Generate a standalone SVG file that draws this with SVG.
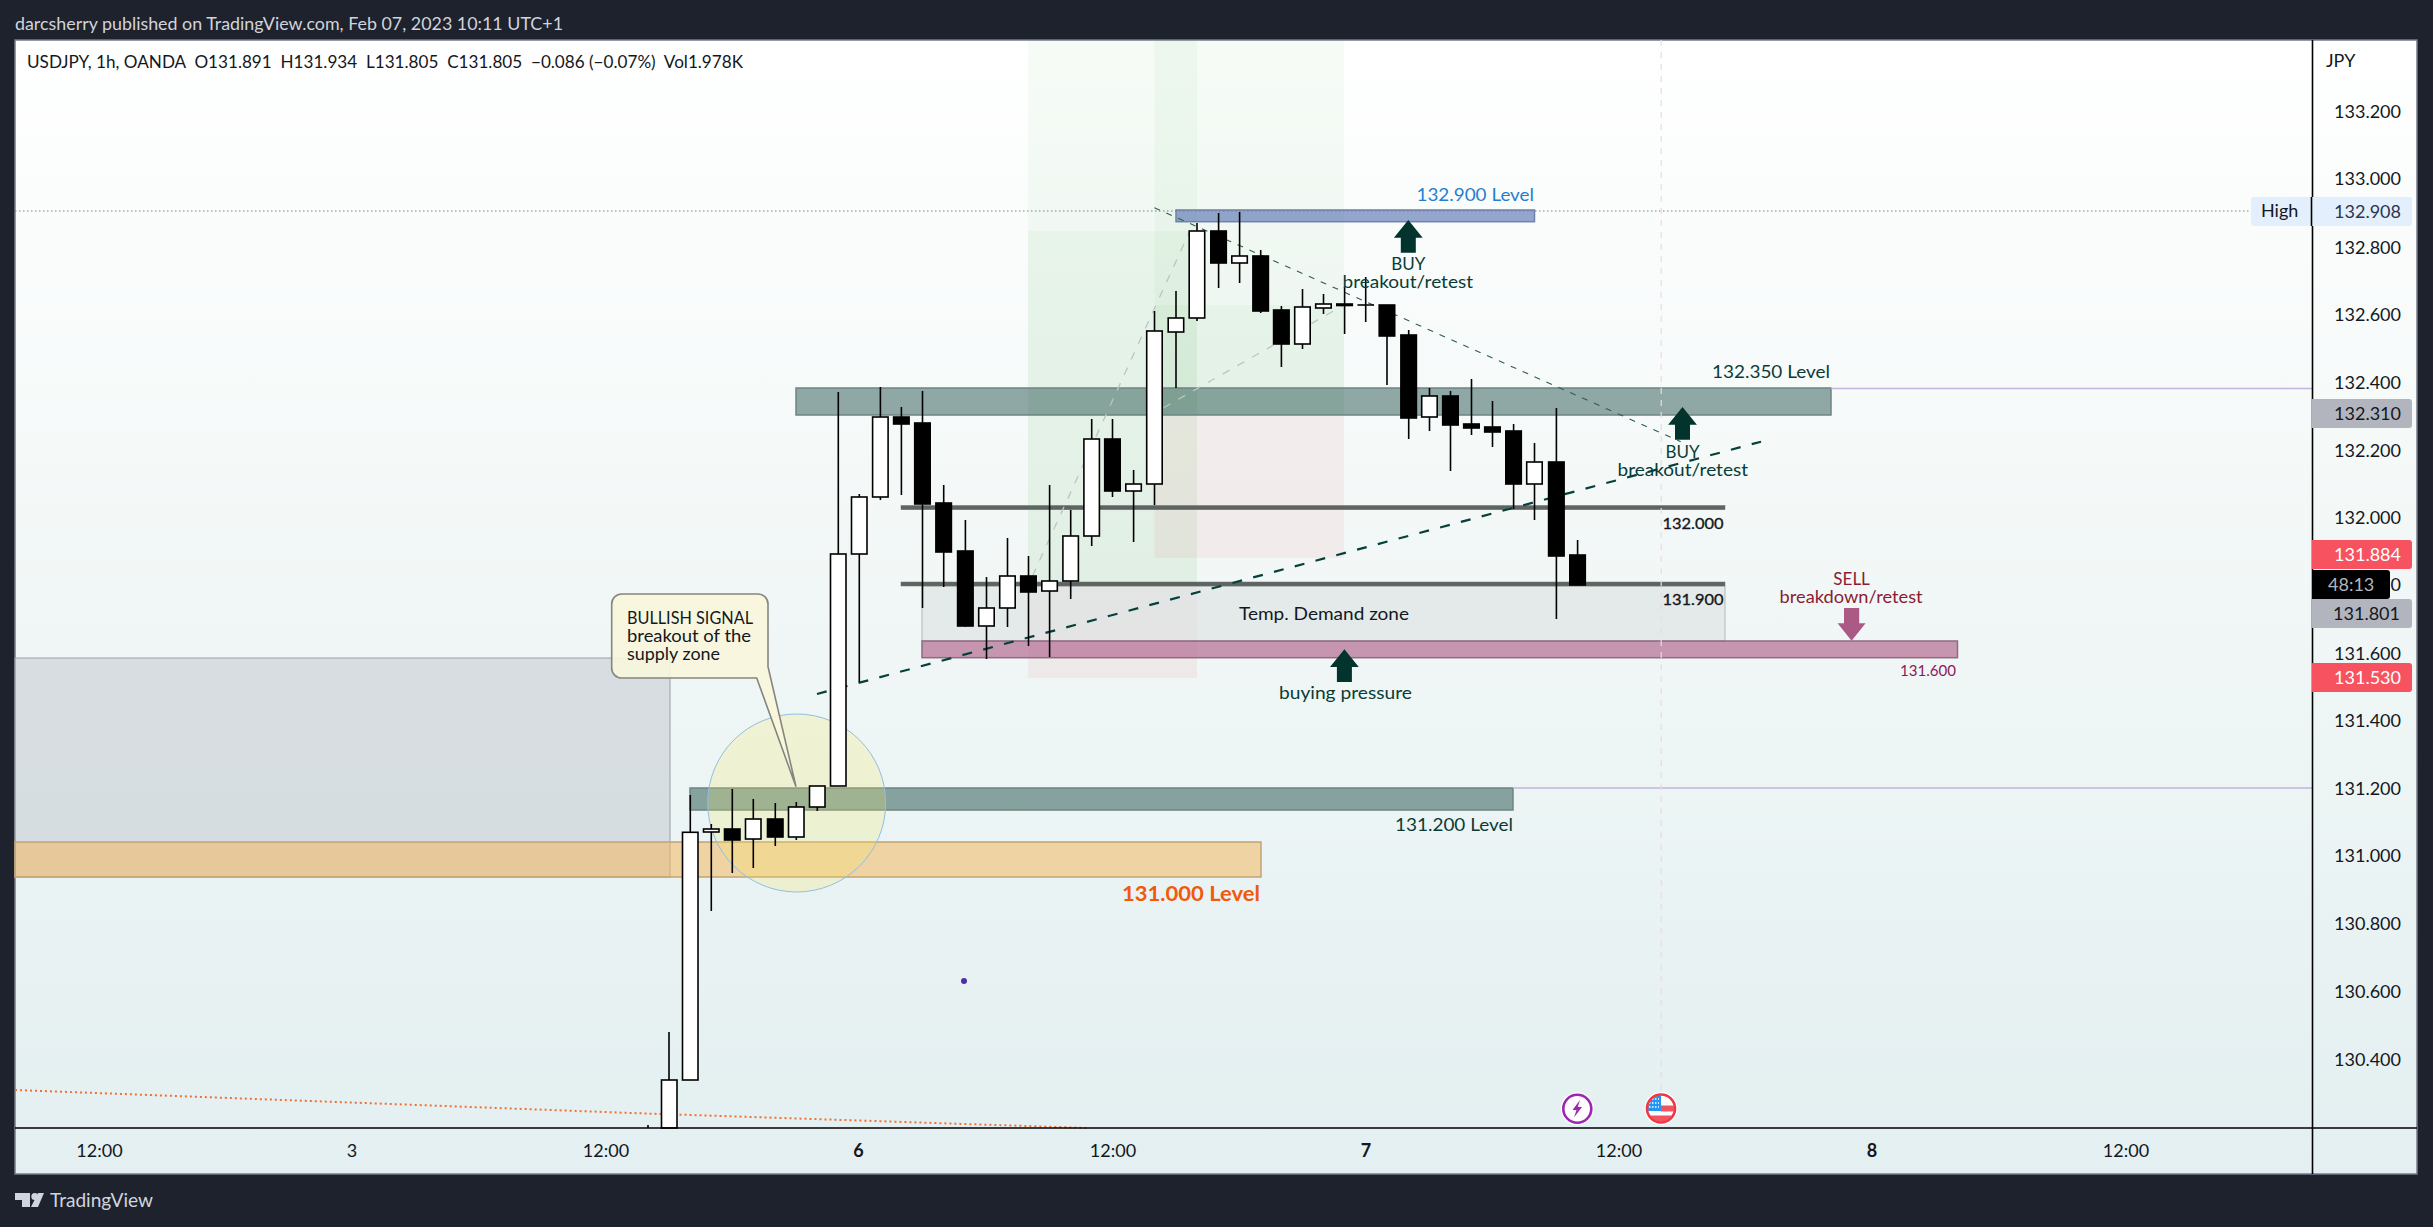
<svg xmlns="http://www.w3.org/2000/svg" width="2433" height="1227" viewBox="0 0 2433 1227">
<style>
text{font-family:"Lato","Liberation Sans",sans-serif;font-size:17px;fill:#131722}
.h{fill:#d1d4dc}
.ax{font-size:18px}
.gt{fill:#073d36}
.ct{fill:#0b3a36}
.sm{font-size:16px;stroke:#131722;stroke-width:.35}
.w{fill:#fff;stroke:#000;stroke-width:1.6}
.b{fill:#000;stroke:#000;stroke-width:1.6}
.k{stroke:#000;stroke-width:1.6;fill:none}
.ar{fill:#03332d}
.bar{fill:#5e6461;stroke:#6b716e;stroke-width:.5}
.zone{stroke-width:1.5}
.grn{fill:#4caf50;fill-opacity:.05}
.red{fill:#e04a5a;fill-opacity:.075}
</style>
<defs>
<linearGradient id="bg" x1="0" y1="0" x2="0" y2="1">
<stop offset="0" stop-color="#ffffff"/>
<stop offset=".5" stop-color="#f1f7f6"/>
<stop offset="1" stop-color="#e3eff1"/>
</linearGradient>
<clipPath id="flagclip"><circle cx="1661" cy="1108.5" r="13"/></clipPath>
</defs>
<rect width="2433" height="1227" fill="#1e222d"/>
<rect id="panel" x="15" y="40" width="2402" height="1134" fill="url(#bg)" stroke="#787b86" stroke-width="1.5"/>
<text class="h" x="15" y="30" textLength="548" lengthAdjust="spacingAndGlyphs">darcsherry published on TradingView.com, Feb 07, 2023 10:11 UTC+1</text>
<text x="27" y="68" textLength="716" lengthAdjust="spacingAndGlyphs" xml:space="preserve">USDJPY, 1h, OANDA  O131.891  H131.934  L131.805  C131.805  −0.086 (−0.07%)  Vol1.978K</text>

<g id="position-tools">
<rect class="grn" x="1028" y="40" width="169" height="546"/>
<rect class="grn" x="1028" y="231" width="169" height="355"/>
<rect class="grn" x="1154.5" y="40" width="189.5" height="375"/>
<rect class="grn" x="1154.5" y="305" width="189.5" height="110"/>
<rect class="red" x="1028" y="586" width="169" height="92"/>
<rect class="red" x="1154.5" y="415" width="189.5" height="143"/>
</g>
<g id="zones">
<rect id="supply-gray" x="15" y="658" width="655" height="219" fill="#c8cdd3" fill-opacity=".6" stroke="#9a9ea3"/>
<rect id="level-131000" x="15" y="842" width="1246" height="35" fill="#f4b860" fill-opacity=".55" stroke="#c4a373" class="zone"/>
<rect id="demand" x="922" y="586" width="803" height="55" fill="#d8e0de" fill-opacity=".55" stroke="#b0bab8"/>
<rect id="level-131600" x="922" y="641" width="1035.5" height="16.7" fill="#b56f96" fill-opacity=".72" stroke="#8f6a80" class="zone"/>
<rect id="level-131200" x="690" y="788" width="823" height="22" fill="#1f4f4a" fill-opacity=".5" stroke="#6e8582" class="zone"/>
<rect id="level-132350" x="796" y="388" width="1035" height="27" fill="#1f4f4a" fill-opacity=".48" stroke="#6e8582" class="zone"/>
<rect id="level-132900" x="1176" y="210" width="358.5" height="11.7" fill="#3f5fa8" fill-opacity=".55" stroke="#7080ab" class="zone"/>
<rect id="bar-132000" class="bar" x="901" y="505.5" width="824" height="4.2"/>
<rect id="bar-131900" class="bar" x="901" y="582" width="824" height="4"/>
</g>
<g id="connectors" fill="none">
<path d="M1513 788H2312" stroke="#c3b5e0" stroke-width="1.5"/>
<path d="M1831 388.5H2312" stroke="#c3b5e0" stroke-width="1.5"/>
<path d="M15 211H2251" stroke="#787b86" stroke-width="1.2" stroke-dasharray="1.5 2.5"/>
<path d="M1661.2 40V1092" stroke="#f0d8e0" stroke-width="1.2" stroke-dasharray="6 6"/>
<path d="M15 1090L645 1113.5L1087 1128" stroke="#f07030" stroke-width="2" stroke-dasharray="2 3"/>
<path d="M1032.5 576L1189.5 231.7" stroke="#bcc4c4" stroke-width="1.3" stroke-dasharray="8 9"/>
<path d="M1163.5 407.7L1344 305L1366 305" stroke="#bcc4c4" stroke-width="1.3" stroke-dasharray="8 9"/>
<path d="M1154.4 207.7L1680.7 441.7" stroke="#2e5d55" stroke-width="1.1" stroke-dasharray="6 7"/>
<path d="M817 694L1761 441.7" stroke="#05403a" stroke-width="2.2" stroke-dasharray="10 11.5"/>
</g>
<g id="circle-signal"><circle cx="796.7" cy="803" r="89" fill="#f0eb64" fill-opacity=".23" stroke="#90bfe2" stroke-width="1"/></g>
<g id="candles">
<path class="k" d="M648 1125V1128M669 1032V1080"/><rect class="w" x="661.5" y="1080" width="15.5" height="48"/>
<path class="k" d="M690.3 795V832"/><rect class="w" x="682.5" y="832.3" width="15.5" height="247.7"/>
<path class="k" d="M711.3 824V911"/><rect class="w" x="703.5" y="829" width="15.5" height="3"/>
<path class="k" d="M732.3 789V873"/><rect class="b" x="724.5" y="829" width="15.5" height="11"/>
<path class="k" d="M753.3 799V868"/><rect class="w" x="745.5" y="819" width="15.5" height="20"/>
<path class="k" d="M775.3 803V846"/><rect class="b" x="767.5" y="819" width="15.5" height="18"/>
<path class="k" d="M796.3 802V840"/><rect class="w" x="788.5" y="807" width="15.5" height="30"/>
<path class="k" d="M817.3 786V811"/><rect class="w" x="809.5" y="786" width="15.5" height="21"/>
<path class="k" d="M838.3 392V554"/><rect class="w" x="830.5" y="554" width="15.5" height="232"/>
<path class="k" d="M859.3 494V682"/><rect class="w" x="851.5" y="497" width="15.5" height="57"/>
<path class="k" d="M880.4 387V500"/><rect class="w" x="872.6" y="417" width="15.5" height="80"/>
<path class="k" d="M901.4 407V495"/><rect class="b" x="893.6" y="417" width="15.5" height="7"/>
<path class="k" d="M922.5 391V608"/><rect class="b" x="914.7" y="423" width="15.5" height="81"/>
<path class="k" d="M943.7 485V587"/><rect class="b" x="935.9" y="503" width="15.5" height="49"/>
<path class="k" d="M965.4 520V627"/><rect class="b" x="957.6" y="551" width="15.5" height="75"/>
<path class="k" d="M986.5 577V659"/><rect class="w" x="978.7" y="608" width="15.5" height="18"/>
<path class="k" d="M1007.5 538V627"/><rect class="w" x="999.7" y="576" width="15.5" height="32"/>
<path class="k" d="M1028.5 556V646"/><rect class="b" x="1020.7" y="576" width="15.5" height="16"/>
<path class="k" d="M1049.6 485V657"/><rect class="w" x="1041.8" y="581" width="15.5" height="10"/>
<path class="k" d="M1070.7 510V599"/><rect class="w" x="1062.9" y="536" width="15.5" height="45"/>
<path class="k" d="M1091.7 419V546"/><rect class="w" x="1083.9" y="439" width="15.5" height="97"/>
<path class="k" d="M1112.5 419V497"/><rect class="b" x="1104.7" y="439" width="15.5" height="52"/>
<path class="k" d="M1133.6 470V542"/><rect class="w" x="1125.8" y="484" width="15.5" height="7"/>
<path class="k" d="M1154.5 311V505"/><rect class="w" x="1146.7" y="331" width="15.5" height="153"/>
<path class="k" d="M1176 291V388"/><rect class="w" x="1168.2" y="318" width="15.5" height="14"/>
<path class="k" d="M1197 223V321"/><rect class="w" x="1189.2" y="231" width="15.5" height="87"/>
<path class="k" d="M1218.6 213V288"/><rect class="b" x="1210.8" y="231" width="15.5" height="32"/>
<path class="k" d="M1239.6 212V283"/><rect class="w" x="1231.8" y="256" width="15.5" height="7"/>
<path class="k" d="M1260.7 250V313"/><rect class="b" x="1252.9" y="256" width="15.5" height="55"/>
<path class="k" d="M1281.4 306V367"/><rect class="b" x="1273.6" y="310" width="15.5" height="34"/>
<path class="k" d="M1302.5 289V349"/><rect class="w" x="1294.7" y="307" width="15.5" height="37"/>
<path class="k" d="M1323.5 294V314"/><rect class="w" x="1315.7" y="304" width="15.5" height="4"/>
<path class="k" d="M1344.6 287V334"/><rect class="b" x="1336.8" y="304" width="15.5" height="1.5"/>
<path class="k" d="M1365.7 277V322M1357.5 305H1374"/>
<path class="k" d="M1387 305V385"/><rect class="b" x="1379.2" y="305" width="15.5" height="31"/>
<path class="k" d="M1408.7 330V439"/><rect class="b" x="1400.9" y="335" width="15.5" height="83"/>
<path class="k" d="M1429.5 388V431"/><rect class="w" x="1421.7" y="396" width="15.5" height="21"/>
<path class="k" d="M1450.5 391V471"/><rect class="b" x="1442.7" y="396" width="15.5" height="29"/>
<path class="k" d="M1471.5 379V435"/><rect class="b" x="1463.7" y="424" width="15.5" height="4"/>
<path class="k" d="M1492.5 401V447"/><rect class="b" x="1484.7" y="427" width="15.5" height="5"/>
<path class="k" d="M1513.6 424V509"/><rect class="b" x="1505.8" y="431" width="15.5" height="53"/>
<path class="k" d="M1534.5 443V520"/><rect class="w" x="1526.7" y="462" width="15.5" height="22"/>
<path class="k" d="M1556.4 408V619"/><rect class="b" x="1548.6" y="462" width="15.5" height="94"/>
<path class="k" d="M1577.6 540V555"/><rect class="b" x="1569.8" y="555" width="15.5" height="30"/>
</g>
<g id="callout">
<path d="M621.7 594H758a10 10 0 0 1 10 10V666.7L796 786.7L756.7 678H621.7a10 10 0 0 1 -10 -10V604a10 10 0 0 1 10 -10Z" fill="#f8f6dc" fill-opacity=".9" stroke="#85857f" stroke-width="1.6"/>
<text x="627" y="623.5" textLength="126" lengthAdjust="spacingAndGlyphs">BULLISH SIGNAL</text>
<text x="627" y="642" textLength="124" lengthAdjust="spacingAndGlyphs">breakout of the</text>
<text x="627" y="660" textLength="93" lengthAdjust="spacingAndGlyphs">supply zone</text>
</g>
<g id="arrows">
<path id="arrow-buy-1" class="ar" d="M1408.3 220L1422.7 237.7H1415.8V252.7H1400.8V237.7H1393.9Z"/>
<path id="arrow-buy-2" class="ar" d="M1682.5 407L1696.9 424.7H1690V439.7H1675V424.7H1668.1Z"/>
<path id="arrow-pressure" class="ar" d="M1344.4 649.3L1358.8 667H1351.9V682H1336.9V667H1330Z"/>
<path id="arrow-sell" d="M1844 608H1859.2V623.3H1865.6L1851.6 640.7L1837.6 623.3H1844Z" fill="#aa5a85"/>
</g>
<g id="labels">
<text x="1416.5" y="201" textLength="117.5" lengthAdjust="spacingAndGlyphs" style="fill:#1f7fd0">132.900 Level</text>
<text class="gt" x="1408.3" y="270" text-anchor="middle">BUY</text>
<text class="gt" x="1342.5" y="288" textLength="130.5" lengthAdjust="spacingAndGlyphs">breakout/retest</text>
<text class="ct" x="1712" y="378" textLength="118" lengthAdjust="spacingAndGlyphs">132.350 Level</text>
<text class="gt" x="1682.5" y="457.5" text-anchor="middle">BUY</text>
<text class="gt" x="1617.5" y="476" textLength="130.5" lengthAdjust="spacingAndGlyphs">breakout/retest</text>
<text class="sm" x="1662.5" y="529" textLength="61" lengthAdjust="spacingAndGlyphs">132.000</text>
<text class="sm" x="1662.5" y="604.5" textLength="61" lengthAdjust="spacingAndGlyphs">131.900</text>
<text x="1239" y="619.5" textLength="170" lengthAdjust="spacingAndGlyphs">Temp. Demand zone</text>
<text class="gt" x="1279" y="699" textLength="133" lengthAdjust="spacingAndGlyphs">buying pressure</text>
<text x="1851.6" y="584.5" text-anchor="middle" style="fill:#8a1c34">SELL</text>
<text x="1779.6" y="603" textLength="143" lengthAdjust="spacingAndGlyphs" style="fill:#8a1c34">breakdown/retest</text>
<text x="1900" y="675.5" textLength="56" lengthAdjust="spacingAndGlyphs" style="font-size:16px;fill:#8b1a5b">131.600</text>
<text class="ct" x="1395" y="831" textLength="118" lengthAdjust="spacingAndGlyphs">131.200 Level</text>
<text x="1122" y="901" textLength="138" lengthAdjust="spacingAndGlyphs" style="font-size:20px;font-weight:700;fill:#f05a0a">131.000 Level</text>
</g>
<circle id="dot" cx="964" cy="981" r="3" fill="#4e2ea8"/>
<g id="event-bolt">
<circle cx="1577.3" cy="1108.7" r="16.5" fill="#fff"/>
<circle cx="1577.3" cy="1108.7" r="14" fill="#fff" stroke="#9c27b0" stroke-width="2.6"/>
<path d="M1580 1100L1572.5 1110H1576.5L1574 1117.5L1582 1107H1577.8Z" fill="#9c27b0"/>
</g>
<g id="event-flag">
<circle cx="1661" cy="1108.5" r="16.5" fill="#fff"/>
<g clip-path="url(#flagclip)">
<rect x="1647" y="1095" width="14" height="16" fill="#2196f3"/>
<path d="M1649 1099h10M1649 1103h10M1649 1107h10" stroke="#fff" stroke-width="1.3" stroke-dasharray="1.5 1.5"/>
<rect x="1661" y="1105.5" width="14" height="6" fill="#f0555f"/>
<rect x="1647" y="1115.5" width="28" height="7" fill="#f0555f"/>
</g>
<circle cx="1661" cy="1108.5" r="14" fill="none" stroke="#f23645" stroke-width="2.6"/>
</g>
<g id="axes">
<path class="k" d="M15 1128H2417M2312.5 40V1174"/>
</g>
<g id="price-axis">
<text class="ax" x="2326" y="67">JPY</text>
<g text-anchor="end">
<text class="ax" x="2401" y="118">133.200</text>
<text class="ax" x="2401" y="185">133.000</text>
<text class="ax" x="2401" y="254">132.800</text>
<text class="ax" x="2401" y="321">132.600</text>
<text class="ax" x="2401" y="389">132.400</text>
<text class="ax" x="2401" y="457">132.200</text>
<text class="ax" x="2401" y="524">132.000</text>
<text class="ax" x="2401" y="591">0</text>
<text class="ax" x="2401" y="660">131.600</text>
<text class="ax" x="2401" y="727">131.400</text>
<text class="ax" x="2401" y="795">131.200</text>
<text class="ax" x="2401" y="862">131.000</text>
<text class="ax" x="2401" y="930">130.800</text>
<text class="ax" x="2401" y="998">130.600</text>
<text class="ax" x="2401" y="1066">130.400</text>
</g>
<rect x="2251" y="197" width="161" height="29" rx="3" fill="#e3effd"/>
<path class="k" d="M2311.5 197V226"/>
<text class="ax" x="2261" y="217">High</text>
<text class="ax" x="2401" y="218" text-anchor="end" style="fill:#2a3550">132.908</text>
<path d="M2312 399H2409a3 3 0 0 1 3 3V425a3 3 0 0 1 -3 3H2312Z" fill="#b2b5be"/>
<text class="ax" x="2401" y="420" text-anchor="end">132.310</text>
<path d="M2312 540H2409a3 3 0 0 1 3 3V566a3 3 0 0 1 -3 3H2312Z" fill="#f7525f"/>
<text class="ax" x="2401" y="561" text-anchor="end" style="fill:#fff">131.884</text>
<path d="M2312 570H2387a3 3 0 0 1 3 3V596a3 3 0 0 1 -3 3H2312Z" fill="#000"/>
<text class="ax" x="2328" y="591" style="fill:#b2b5be">48:13</text>
<path d="M2312 599H2409a3 3 0 0 1 3 3V625a3 3 0 0 1 -3 3H2312Z" fill="#b2b5be"/>
<text class="ax" x="2400" y="620" text-anchor="end">131.801</text>
<path d="M2312 663H2409a3 3 0 0 1 3 3V689a3 3 0 0 1 -3 3H2312Z" fill="#f7525f"/>
<text class="ax" x="2401" y="684" text-anchor="end" style="fill:#fff">131.530</text>
</g>
<g id="time-axis" text-anchor="middle">
<text class="ax" x="99.5" y="1157">12:00</text>
<text class="ax" x="352" y="1157">3</text>
<text class="ax" x="606" y="1157">12:00</text>
<text class="ax" x="858.5" y="1157" style="font-weight:700">6</text>
<text class="ax" x="1113" y="1157">12:00</text>
<text class="ax" x="1366" y="1157" style="font-weight:700">7</text>
<text class="ax" x="1619" y="1157">12:00</text>
<text class="ax" x="1872" y="1157" style="font-weight:700">8</text>
<text class="ax" x="2126" y="1157">12:00</text>
</g>
<g id="logo" fill="#d1d4dc">
<path d="M15 1193H30V1207H22V1200H15Z"/>
<circle cx="34.8" cy="1196.5" r="3.5"/>
<path d="M38 1193H44L38 1207H31Z"/>
<text class="h" x="50" y="1207" textLength="103" lengthAdjust="spacingAndGlyphs" style="font-size:19px">TradingView</text>
</g>
</svg>
